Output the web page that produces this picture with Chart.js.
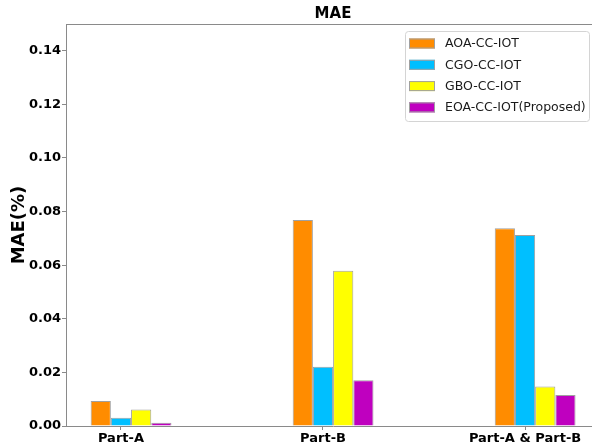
<!DOCTYPE html>
<html>
<head>
<meta charset="utf-8">
<script src="https://cdn.jsdelivr.net/npm/chart.js@4"></script>
<style>
html, body { margin: 0; padding: 0; background: #fff; overflow: hidden; }
canvas { display: block; }
</style>
</head>
<body>
<canvas id="chart" width="600" height="448"></canvas>
<script>
// data
const categories = ['Part-A', 'Part-B', 'Part-A & Part-B'];
const seriesNames = ['AOA-CC-IOT', 'CGO-CC-IOT', 'GBO-CC-IOT', 'EOA-CC-IOT(Proposed)'];
const aoaValues = [0.0093, 0.0769, 0.0738];
const cgoValues = [0.0031, 0.0221, 0.0713];
const gboValues = [0.0062, 0.0579, 0.0147];
const eoaValues = [0.0012, 0.0171, 0.0116];
const yTicks = [0, 0.02, 0.04, 0.06, 0.08, 0.10, 0.12, 0.14];

const seriesColors = ['#FF8C00', '#00BFFF', '#FFFF00', '#BF00BF'];
const spineColor = '#8a8a8a';

function makeSeries(name, values, color) {
    return {
        label: name,
        data: values.map((v, i) => ({ x: i, y: v })),
        backgroundColor: color,
        borderColor: '#a0a0a0',
        borderWidth: 1
    };
}

/**
 * 凡例と上の枠線を描く
 */
const frameAndLegend = {
    id: 'frameAndLegend',
    afterDraw(chart) {
        const ctx = chart.ctx;
        const area = chart.chartArea;
        ctx.save();
        // top spine
        ctx.strokeStyle = spineColor;
        ctx.lineWidth = 1;
        ctx.beginPath();
        ctx.moveTo(area.left, area.top + 0.5);
        ctx.lineTo(area.right, area.top + 0.5);
        ctx.stroke();

        // legend box
        ctx.beginPath();
        ctx.roundRect(405.5, 31.5, 184, 90, 3);
        ctx.fillStyle = 'rgba(255,255,255,0.8)';
        ctx.fill();
        ctx.strokeStyle = '#d4d4d4';
        ctx.stroke();

        const items = chart.data.datasets.filter(d => d.label);
        ctx.font = '12.5px "DejaVu Sans"';
        ctx.textBaseline = 'middle';
        items.forEach((d, i) => {
            const y = 43.5 + i * 21.3;
            ctx.fillStyle = d.backgroundColor;
            ctx.fillRect(409, y - 5, 26, 10);
            ctx.strokeStyle = '#a0a0a0';
            ctx.strokeRect(409.5, y - 4.5, 25, 9);
            ctx.fillStyle = '#1a1a1a';
            ctx.fillText(d.label, 445, y + 0.5);
        });
        ctx.restore();
    }
};

const datasets = [
    // empty slot so the group sits like the original (cyan on the tick)
    { label: '', data: categories.map((c, i) => ({ x: i, y: null })) },
    makeSeries(seriesNames[0], aoaValues, seriesColors[0]),
    makeSeries(seriesNames[1], cgoValues, seriesColors[1]),
    makeSeries(seriesNames[2], gboValues, seriesColors[2]),
    makeSeries(seriesNames[3], eoaValues, seriesColors[3])
];

const tickFont = { family: '"DejaVu Sans"', size: 13, weight: 'bold' };

new Chart(document.getElementById('chart'), {
    type: 'bar',
    data: { datasets: datasets },
    options: {
        responsive: false,
        animation: false,
        layout: { padding: 0 },
        datasets: {
            bar: { categoryPercentage: 0.5, barPercentage: 1 }
        },
        plugins: {
            legend: { display: false },
            tooltip: { enabled: false },
            title: {
                display: true,
                text: 'MAE',
                fullSize: false,
                color: '#000',
                font: { family: '"DejaVu Sans"', size: 15, weight: 'bold' },
                padding: { top: 5, bottom: 1 }
            }
        },
        scales: {
            x: {
                type: 'linear',
                min: -0.272,
                max: 2.371,
                offset: false,
                afterBuildTicks: axis => {
                    axis.ticks = categories.map((c, i) => ({ value: i }));
                },
                afterFit: axis => { axis.height = 22; },
                ticks: {
                    callback: v => categories[v],
                    color: '#000',
                    font: tickFont,
                    padding: 1,
                    maxRotation: 0,
                    autoSkip: false
                },
                grid: {
                    offset: false,
                    drawOnChartArea: false,
                    drawTicks: true,
                    tickLength: 4,
                    color: spineColor
                },
                border: { color: spineColor, width: 1 }
            },
            y: {
                min: 0,
                max: 0.15,
                afterBuildTicks: axis => {
                    axis.ticks = yTicks.map(v => ({ value: v }));
                },
                afterFit: axis => { axis.width = 66; },
                ticks: {
                    callback: v => v.toFixed(2),
                    color: '#000',
                    font: tickFont,
                    padding: 1
                },
                grid: {
                    drawOnChartArea: false,
                    drawTicks: true,
                    tickLength: 4,
                    color: spineColor
                },
                border: { color: spineColor, width: 1 },
                title: {
                    display: true,
                    text: 'MAE(%)',
                    color: '#000',
                    font: { family: '"DejaVu Sans"', size: 18, weight: 'bold' },
                    padding: { top: 9, bottom: 0 }
                }
            }
        }
    },
    plugins: [frameAndLegend]
});
</script>
</body>
</html>
